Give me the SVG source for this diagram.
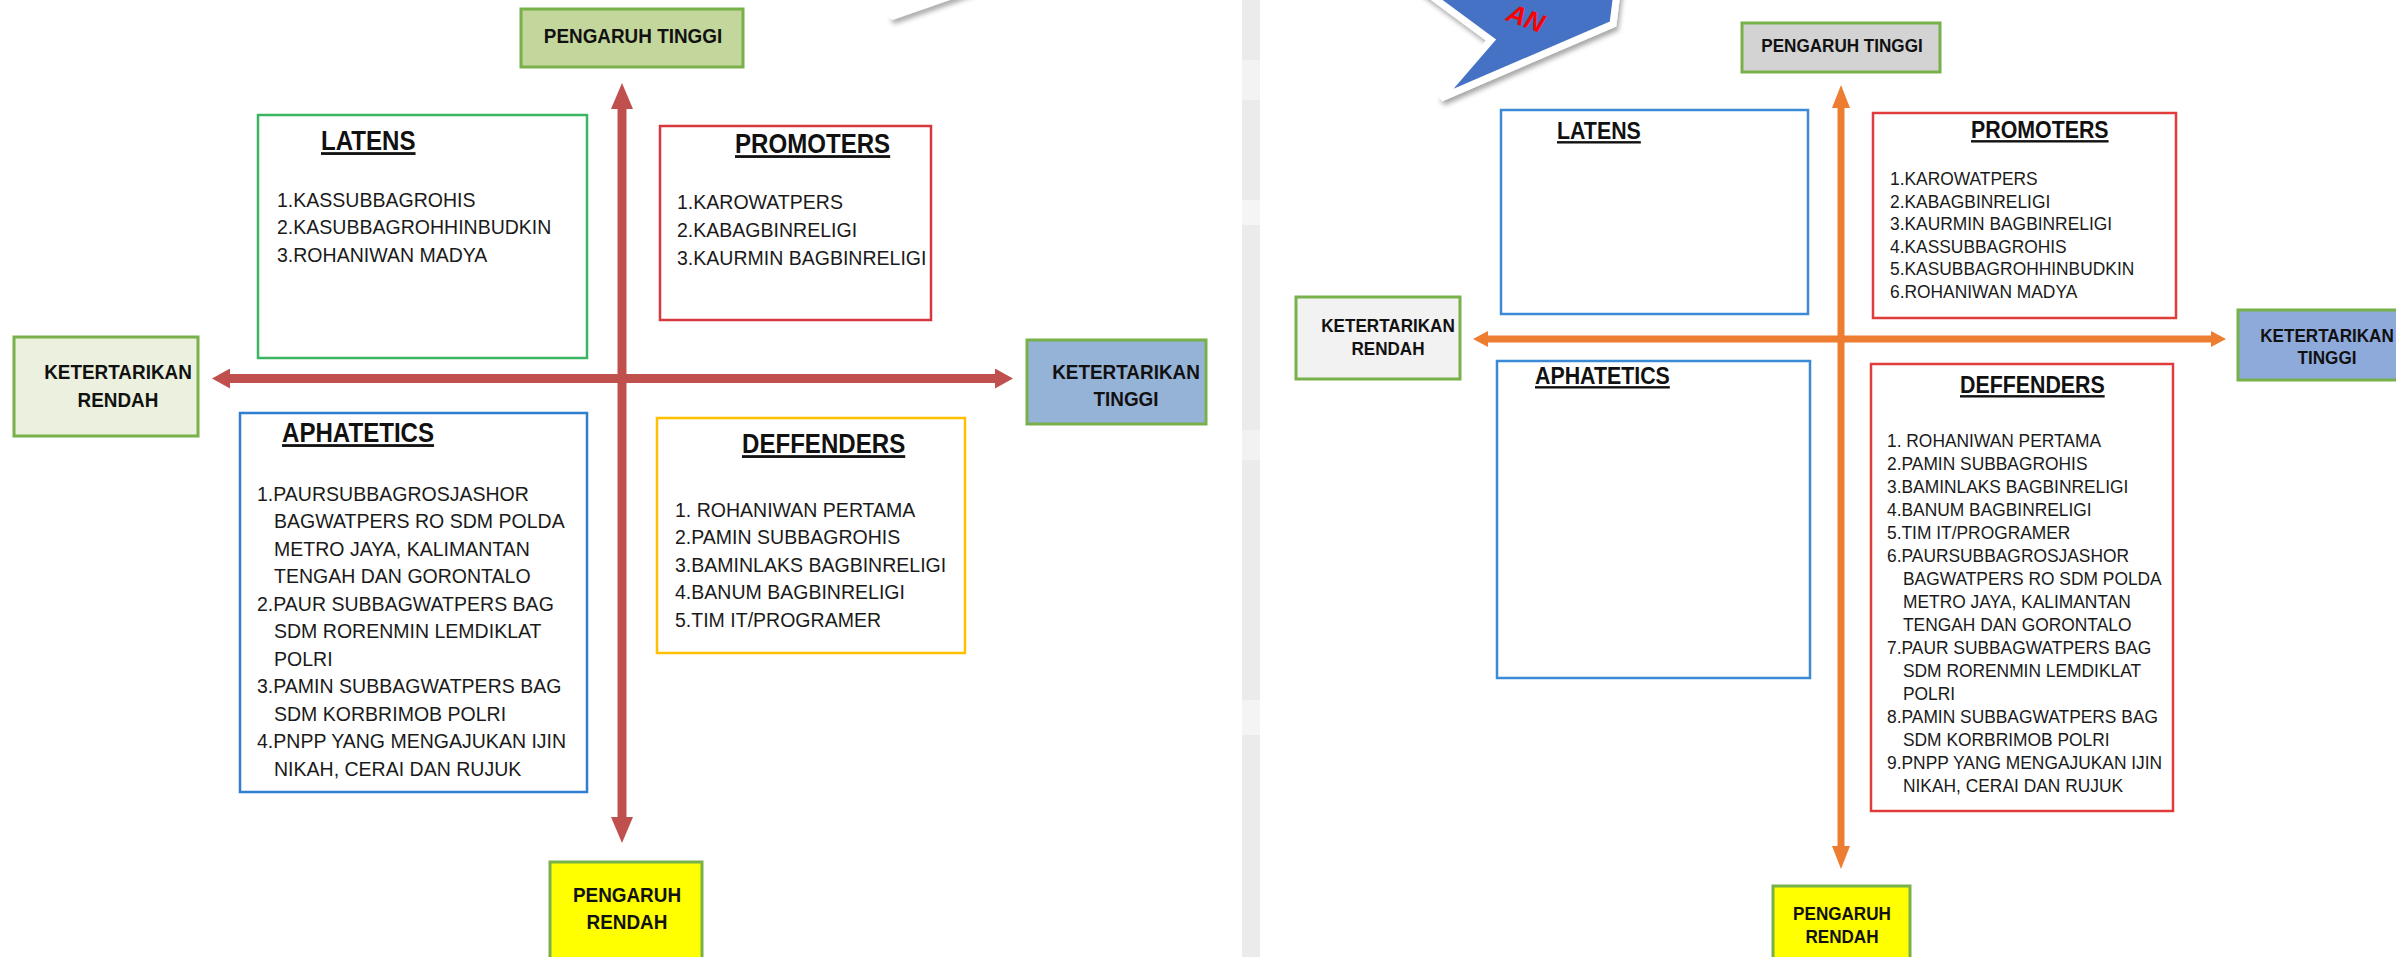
<svg xmlns="http://www.w3.org/2000/svg" width="2396" height="957" viewBox="0 0 2396 957">
<style>
text { font-family: "Liberation Sans", Arial, sans-serif; }
.lb { font-weight: bold; fill: #111; text-anchor: middle; }
.lb21 { font-size: 21px; }
.lb19 { font-size: 19px; }
.hd { font-weight: bold; fill: #111; text-decoration: underline; }
.hd28 { font-size: 28px; }
.hd24 { font-size: 24px; }
.li { fill: #1a1a1a; }
.li21 { font-size: 21px; }
.li18 { font-size: 18.5px; }
.tag { stroke: #78b04a; stroke-width: 3; }
.box { fill: #fff; stroke-width: 2.5; }
.arL { stroke: #c0504d; stroke-width: 9; fill: none; }
.arR { stroke: #ed7d31; stroke-width: 7; fill: none; }
</style>
<defs>
<marker id="mLH" markerUnits="userSpaceOnUse" markerWidth="18" markerHeight="20" viewBox="0 0 18 20" refX="0" refY="10" orient="auto-start-reverse"><path d="M0,0 L18,10 L0,20 Z" fill="#c0504d"/></marker>
<marker id="mLV" markerUnits="userSpaceOnUse" markerWidth="26" markerHeight="22" viewBox="0 0 26 22" refX="0" refY="11" orient="auto-start-reverse"><path d="M0,0 L26,11 L0,22 Z" fill="#c0504d"/></marker>
<marker id="mRH" markerUnits="userSpaceOnUse" markerWidth="15" markerHeight="16" viewBox="0 0 15 16" refX="0" refY="8" orient="auto-start-reverse"><path d="M0,0 L15,8 L0,16 Z" fill="#ed7d31"/></marker>
<marker id="mRV" markerUnits="userSpaceOnUse" markerWidth="23" markerHeight="18" viewBox="0 0 23 18" refX="0" refY="9" orient="auto-start-reverse"><path d="M0,0 L23,9 L0,18 Z" fill="#ed7d31"/></marker>
<filter id="shadow" x="-20%" y="-20%" width="140%" height="160%"><feDropShadow dx="2" dy="4" stdDeviation="2.5" flood-color="#000" flood-opacity="0.35"/></filter>
</defs>
<rect x="0" y="0" width="2396" height="957" fill="#fff"/>

<!-- separator strip -->
<g id="strip">
<rect x="1242" y="0" width="18" height="957" fill="#ebebeb"/>
<rect x="1242" y="60" width="18" height="40" fill="#f3f3f3"/>
<rect x="1242" y="200" width="18" height="25" fill="#f5f5f5"/>
<rect x="1242" y="430" width="18" height="30" fill="#f2f2f2"/>
<rect x="1242" y="700" width="18" height="35" fill="#f4f4f4"/>
</g>

<!-- callout fragments -->
<g id="callout-left">
<path d="M893,16 L985,-16" stroke="#fff" stroke-width="7" stroke-linecap="round" fill="none" filter="url(#shadow)"/>
</g>
<g id="callout-right">
<path d="M1426,-8 L1491,40 L1441,98 L1613,24 L1617,-8 Z" fill="#4472c4" stroke="#fff" stroke-width="7" stroke-linejoin="miter" filter="url(#shadow)"/>
<text transform="translate(1505,20) rotate(20)" font-size="26" font-weight="bold" font-style="italic" fill="#ff0000">AN</text>
</g>

<!-- connectors -->
<g id="connectors">
<line class="arL" x1="230" y1="378.5" x2="995" y2="378.5" marker-start="url(#mLH)" marker-end="url(#mLH)"/>
<line class="arL" x1="622" y1="109" x2="622" y2="817" marker-start="url(#mLV)" marker-end="url(#mLV)"/>
<line class="arR" x1="1488" y1="339" x2="2211" y2="339" marker-start="url(#mRH)" marker-end="url(#mRH)"/>
<line class="arR" x1="1841" y1="108" x2="1841" y2="846" marker-start="url(#mRV)" marker-end="url(#mRV)"/>
</g>

<!-- ===== LEFT PANEL ===== -->
<g id="L-pengaruh-tinggi">
<rect class="tag" x="521" y="9" width="222" height="58" fill="#c3d69b"/>
<text class="lb lb21" transform="translate(633,43) scale(0.9,1)">PENGARUH TINGGI</text>
</g>
<g id="L-latens">
<rect class="box" x="258" y="115" width="329" height="243" stroke="#3cb563"/>
<text class="hd hd28" transform="translate(321,150) scale(0.86,1)">LATENS</text>
<text class="li li21" transform="translate(277,207) scale(0.93,1)"><tspan x="0" y="0">1.KASSUBBAGROHIS</tspan><tspan x="0" dy="27.5">2.KASUBBAGROHHINBUDKIN</tspan><tspan x="0" dy="27.5">3.ROHANIWAN MADYA</tspan></text>
</g>
<g id="L-promoters">
<rect class="box" x="660" y="126" width="271" height="194" stroke="#d5383d"/>
<text class="hd hd28" transform="translate(735,153) scale(0.86,1)">PROMOTERS</text>
<text class="li li21" transform="translate(677,209) scale(0.93,1)"><tspan x="0" y="0">1.KAROWATPERS</tspan><tspan x="0" dy="27.8">2.KABAGBINRELIGI</tspan><tspan x="0" dy="27.8">3.KAURMIN BAGBINRELIGI</tspan></text>
</g>
<g id="L-ket-rendah">
<rect class="tag" x="14" y="337" width="184" height="99" fill="#ebf1de"/>
<text class="lb lb21" transform="translate(118,379) scale(0.9,1)"><tspan x="0" y="0">KETERTARIKAN</tspan><tspan x="0" dy="28">RENDAH</tspan></text>
</g>
<g id="L-ket-tinggi">
<rect class="tag" x="1027" y="340" width="179" height="84" fill="#95b3d7"/>
<text class="lb lb21" transform="translate(1126,379) scale(0.9,1)"><tspan x="0" y="0">KETERTARIKAN</tspan><tspan x="0" dy="27">TINGGI</tspan></text>
</g>
<g id="L-aphatetics">
<rect class="box" x="240" y="413" width="347" height="379" stroke="#2f7ed0"/>
<text class="hd hd28" transform="translate(282,442) scale(0.86,1)">APHATETICS</text>
<text class="li li21" transform="translate(257,501) scale(0.93,1)"><tspan x="0" y="0">1.PAURSUBBAGROSJASHOR</tspan><tspan x="18.3" dy="27.5">BAGWATPERS RO SDM POLDA</tspan><tspan x="18.3" dy="27.5">METRO JAYA, KALIMANTAN</tspan><tspan x="18.3" dy="27.5">TENGAH DAN GORONTALO</tspan><tspan x="0" dy="27.5">2.PAUR SUBBAGWATPERS BAG</tspan><tspan x="18.3" dy="27.5">SDM RORENMIN LEMDIKLAT</tspan><tspan x="18.3" dy="27.5">POLRI</tspan><tspan x="0" dy="27.5">3.PAMIN SUBBAGWATPERS BAG</tspan><tspan x="18.3" dy="27.5">SDM KORBRIMOB POLRI</tspan><tspan x="0" dy="27.5">4.PNPP YANG MENGAJUKAN IJIN</tspan><tspan x="18.3" dy="27.5">NIKAH, CERAI DAN RUJUK</tspan></text>
</g>
<g id="L-deffenders">
<rect class="box" x="657" y="418" width="308" height="235" stroke="#ffc000"/>
<text class="hd hd28" transform="translate(742,453) scale(0.86,1)">DEFFENDERS</text>
<text class="li li21" transform="translate(675,517) scale(0.93,1)"><tspan x="0" y="0">1. ROHANIWAN PERTAMA</tspan><tspan x="0" dy="27.5">2.PAMIN SUBBAGROHIS</tspan><tspan x="0" dy="27.5">3.BAMINLAKS BAGBINRELIGI</tspan><tspan x="0" dy="27.5">4.BANUM BAGBINRELIGI</tspan><tspan x="0" dy="27.5">5.TIM IT/PROGRAMER</tspan></text>
</g>
<g id="L-pengaruh-rendah">
<rect class="tag" x="550" y="862" width="152" height="110" fill="#ffff00"/>
<text class="lb lb21" transform="translate(627,902) scale(0.9,1)"><tspan x="0" y="0">PENGARUH</tspan><tspan x="0" dy="27">RENDAH</tspan></text>
</g>

<!-- ===== RIGHT PANEL ===== -->
<g id="R-pengaruh-tinggi">
<rect class="tag" x="1742" y="23" width="198" height="49" fill="#d3d3d3"/>
<text class="lb lb19" transform="translate(1842,51.5) scale(0.9,1)">PENGARUH TINGGI</text>
</g>
<g id="R-latens">
<rect class="box" x="1501" y="110" width="307" height="204" stroke="#3a8ad6"/>
<text class="hd hd24" transform="translate(1557,139) scale(0.89,1)">LATENS</text>
</g>
<g id="R-promoters">
<rect class="box" x="1873" y="113" width="303" height="205" stroke="#e03c3c"/>
<text class="hd hd24" transform="translate(1971,138) scale(0.89,1)">PROMOTERS</text>
<text class="li li18" transform="translate(1890,185) scale(0.94,1)"><tspan x="0" y="0">1.KAROWATPERS</tspan><tspan x="0" dy="22.6">2.KABAGBINRELIGI</tspan><tspan x="0" dy="22.6">3.KAURMIN BAGBINRELIGI</tspan><tspan x="0" dy="22.6">4.KASSUBBAGROHIS</tspan><tspan x="0" dy="22.6">5.KASUBBAGROHHINBUDKIN</tspan><tspan x="0" dy="22.6">6.ROHANIWAN MADYA</tspan></text>
</g>
<g id="R-ket-rendah">
<rect class="tag" x="1296" y="297" width="164" height="82" fill="#f2f2f2"/>
<text class="lb lb19" transform="translate(1388,332) scale(0.9,1)"><tspan x="0" y="0">KETERTARIKAN</tspan><tspan x="0" dy="23">RENDAH</tspan></text>
</g>
<g id="R-ket-tinggi">
<rect class="tag" x="2238" y="310" width="170" height="70" fill="#8eaadb"/>
<text class="lb lb19" transform="translate(2327,342) scale(0.9,1)"><tspan x="0" y="0">KETERTARIKAN</tspan><tspan x="0" dy="22">TINGGI</tspan></text>
</g>
<g id="R-aphatetics">
<rect class="box" x="1497" y="361" width="313" height="317" stroke="#3a8ad6"/>
<text class="hd hd24" transform="translate(1535,384) scale(0.89,1)">APHATETICS</text>
</g>
<g id="R-deffenders">
<rect class="box" x="1871" y="364" width="302" height="447" stroke="#e03c3c"/>
<text class="hd hd24" transform="translate(1960,393) scale(0.89,1)">DEFFENDERS</text>
<text class="li li18" transform="translate(1887,447) scale(0.94,1)"><tspan x="0" y="0">1. ROHANIWAN PERTAMA</tspan><tspan x="0" dy="23">2.PAMIN SUBBAGROHIS</tspan><tspan x="0" dy="23">3.BAMINLAKS BAGBINRELIGI</tspan><tspan x="0" dy="23">4.BANUM BAGBINRELIGI</tspan><tspan x="0" dy="23">5.TIM IT/PROGRAMER</tspan><tspan x="0" dy="23">6.PAURSUBBAGROSJASHOR</tspan><tspan x="17" dy="23">BAGWATPERS RO SDM POLDA</tspan><tspan x="17" dy="23">METRO JAYA, KALIMANTAN</tspan><tspan x="17" dy="23">TENGAH DAN GORONTALO</tspan><tspan x="0" dy="23">7.PAUR SUBBAGWATPERS BAG</tspan><tspan x="17" dy="23">SDM RORENMIN LEMDIKLAT</tspan><tspan x="17" dy="23">POLRI</tspan><tspan x="0" dy="23">8.PAMIN SUBBAGWATPERS BAG</tspan><tspan x="17" dy="23">SDM KORBRIMOB POLRI</tspan><tspan x="0" dy="23">9.PNPP YANG MENGAJUKAN IJIN</tspan><tspan x="17" dy="23">NIKAH, CERAI DAN RUJUK</tspan></text>
</g>
<g id="R-pengaruh-rendah">
<rect class="tag" x="1773" y="886" width="137" height="90" fill="#ffff00"/>
<text class="lb lb19" transform="translate(1842,920) scale(0.9,1)"><tspan x="0" y="0">PENGARUH</tspan><tspan x="0" dy="23">RENDAH</tspan></text>
</g>
</svg>
